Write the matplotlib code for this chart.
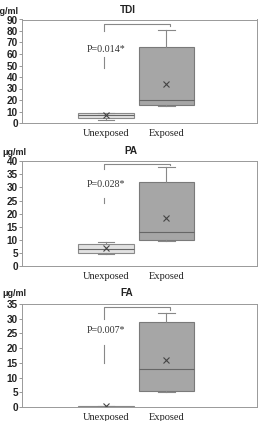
import matplotlib
matplotlib.use("Agg")
import matplotlib.pyplot as plt

# data (ug/ml)
panels = ["TDI", "PA", "FA"]
groups = ["Unexposed", "Exposed"]
p_text = ["P=0.014*", "P=0.028*", "P=0.007*"]

# per panel: [whislo, q1, med, q3, whishi, mean] for unexposed / exposed
tdi_unexp = [3, 4, 7, 9, 9, 7]
tdi_exp = [15, 15.5, 20, 66, 81, 34]
pa_unexp = [4.5, 5, 6.5, 8.5, 9.3, 7]
pa_exp = [9.5, 10, 13, 32, 38, 18.5]
fa_unexp = [0, 0, 0.1, 0.3, 0.3, 0.2]
fa_exp = [5, 5.5, 13, 29, 32, 16]

ymax = [90, 40, 35]
ystep = [10, 5, 5]
# bracket: top, left leg end, right leg end, lower segment (top, bottom), text y
brackets = [[86, 80, 84, 57, 48, 64], [39, 37, 38.5, 26, 24, 31], [34, 30, 33, 21, 15, 26]]

stats_all = [(tdi_unexp, tdi_exp), (pa_unexp, pa_exp), (fa_unexp, fa_exp)]

W, H = 258, 421
fig = plt.figure(figsize=(W / 100, H / 100), dpi=100)

ax_px = [(19.5, 123), (161.3, 266), (304, 407)]
ylab_px = [(-6, 12), (2, 152.5), (2, 294)]
title_px = [(128, 10), (131, 151), (127, 293)]

sans = "Liberation Sans"
serif = "Liberation Serif"

for i, name in enumerate(panels):
    top, bot = ax_px[i]
    ax = fig.add_axes([22 / W, 1 - bot / H, 235 / W, (bot - top) / H])
    bx = []
    for s, lab in zip(stats_all[i], groups):
        bx.append(dict(whislo=s[0], q1=s[1], med=s[2], q3=s[3], whishi=s[4], mean=s[5], label=lab, fliers=[]))
    res = ax.bxp(bx, positions=[1, 2], widths=0.92, showmeans=True, patch_artist=True,
                 capwidths=0.28,
                 meanprops=dict(marker="x", markeredgecolor="#444444", markersize=4, markeredgewidth=0.8),
                 medianprops=dict(color="#666666", linewidth=0.8),
                 whiskerprops=dict(color="#888888", linewidth=0.8),
                 capprops=dict(color="#888888", linewidth=0.8))
    res["boxes"][0].set(facecolor="#e2e2e2", edgecolor="#8a8a8a", linewidth=0.8)
    res["boxes"][1].set(facecolor="#a6a6a6", edgecolor="#7a7a7a", linewidth=0.8)

    ax.set_xlim(-0.388, 3.496)
    ax.set_ylim(0, ymax[i])
    ax.set_yticks(range(0, ymax[i] + 1, ystep[i]))
    ax.tick_params(axis="y", labelsize=7.2, length=2, width=0.6, color="#888888", pad=1)
    ax.tick_params(axis="x", labelsize=7.5, length=0, pad=4)
    for t in ax.get_yticklabels():
        t.set_fontfamily(sans)
        t.set_fontweight("bold")
        t.set_color("#222222")
    for t in ax.get_xticklabels():
        t.set_fontfamily(serif)
        t.set_color("#222222")
    for sp in ax.spines.values():
        sp.set_color("#999999")
        sp.set_linewidth(0.7)

    b = brackets[i]
    x1, x2 = 0.97, 2.06
    ax.plot([x1, x1, x2, x2], [b[1], b[0], b[0], b[2]], color="#888888", lw=0.8)
    ax.plot([x1, x1], [b[3], b[4]], color="#888888", lw=0.8)
    ax.text(1.0, b[5], p_text[i], ha="center", va="center", fontsize=7.2, family=serif, color="#333333")

    fig.text(title_px[i][0] / W, 1 - title_px[i][1] / H, name, ha="center", va="center",
             fontsize=7.2, family=sans, fontweight="bold", color="#222222")
    fig.text(ylab_px[i][0] / W, 1 - ylab_px[i][1] / H, "\u03bcg/ml", ha="left", va="center",
             fontsize=6.5, family=sans, fontweight="bold", color="#222222")

fig.savefig("out.png", dpi=100)
